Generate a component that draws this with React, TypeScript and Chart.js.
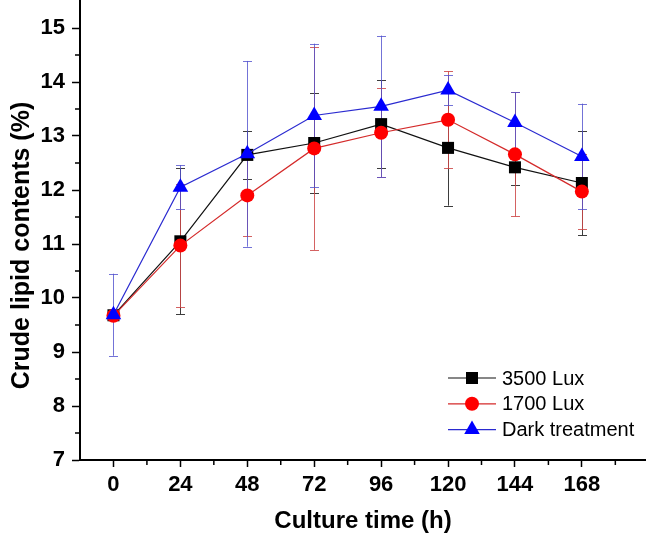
import React, { useEffect, useRef } from 'react';
import { Chart, registerables } from 'chart.js';
import { drawPoint } from 'chart.js/helpers';

Chart.register(...registerables);

const hours = [0, 24, 48, 72, 96, 120, 144, 168];
const lux3500 = [9.68, 11.05, 12.65, 12.87, 13.22, 12.78, 12.42, 12.13];
const lux3500Err = [0.05, 1.35, 0.45, 0.92, 0.81, 1.07, 0.32, 0.97];
const lux1700 = [9.67, 10.97, 11.9, 12.77, 13.06, 13.3, 12.66, 11.97];
const lux1700Err = [0.08, 1.14, 0.75, 1.88, 0.82, 0.9, 1.15, 0.7];
const dark = [9.69, 12.05, 12.67, 13.38, 13.55, 13.85, 13.25, 12.62];
const darkErr = [0.76, 0.41, 1.72, 1.33, 1.31, 0.28, 0.56, 0.98];

const seriesNames = ['3500 Lux', '1700 Lux', 'Dark treatment'];
const xTickValues = [0, 24, 48, 72, 96, 120, 144, 168];
const xMinorValues = [12, 36, 60, 84, 108, 132, 156, 180];
const yTickValues = [7, 8, 9, 10, 11, 12, 13, 14, 15];
const yMinorValues = [7.5, 8.5, 9.5, 10.5, 11.5, 12.5, 13.5, 14.5];
const xTitle = 'Culture time (h)';
const yTitle = 'Crude lipid contents (%)';

const FONT = "'Liberation Sans', Arial, Helvetica, sans-serif";

const errors = [lux3500Err, lux1700Err, darkErr];
const errColors = ['rgba(40,40,40,0.9)', 'rgba(205,70,70,0.85)', 'rgba(80,80,205,0.8)'];

const errorBarPlugin = {
  id: 'errorBars',
  beforeDatasetsDraw(chart: any) {
    const ctx = chart.ctx;
    const yScale = chart.scales.y;
    ctx.save();
    chart.data.datasets.forEach((ds: any, i: number) => {
      const meta = chart.getDatasetMeta(i);
      const err = errors[i];
      ctx.strokeStyle = errColors[i];
      ctx.lineWidth = 1;
      meta.data.forEach((pt: any, j: number) => {
        const v = ds.data[j].y;
        const e = err[j];
        const x = Math.round(pt.x) + 0.5;
        const yt = yScale.getPixelForValue(v + e);
        const yb = yScale.getPixelForValue(v - e);
        ctx.beginPath();
        ctx.moveTo(x, yt);
        ctx.lineTo(x, yb);
        ctx.moveTo(x - 4.5, Math.round(yt) + 0.5);
        ctx.lineTo(x + 4.5, Math.round(yt) + 0.5);
        ctx.moveTo(x - 4.5, Math.round(yb) + 0.5);
        ctx.lineTo(x + 4.5, Math.round(yb) + 0.5);
        ctx.stroke();
      });
    });
    ctx.restore();
  },
};

const decorPlugin = {
  id: 'decor',
  afterDraw(chart: any) {
    const ctx = chart.ctx;
    const area = chart.chartArea;
    const xs = chart.scales.x;
    const ys = chart.scales.y;
    ctx.save();
    // minor ticks
    ctx.strokeStyle = '#000';
    ctx.lineWidth = 1.5;
    ctx.beginPath();
    xMinorValues.forEach((v) => {
      const x = xs.getPixelForValue(v);
      ctx.moveTo(x, area.bottom);
      ctx.lineTo(x, area.bottom + 5);
    });
    yMinorValues.forEach((v) => {
      const y = ys.getPixelForValue(v);
      ctx.moveTo(area.left, y);
      ctx.lineTo(area.left - 5, y);
    });
    ctx.stroke();

    // y title
    ctx.fillStyle = '#000';
    ctx.font = `bold 25px ${FONT}`;
    ctx.textAlign = 'center';
    ctx.textBaseline = 'middle';
    ctx.translate(22, (area.top + area.bottom) / 2 + 15);
    ctx.rotate(-Math.PI / 2);
    ctx.fillText(yTitle, 0, 0);
    ctx.restore();

    // legend
    ctx.save();
    const x0 = area.right - 198;
    const rowY0 = area.bottom - 82;
    chart.data.datasets.forEach((ds: any, i: number) => {
      const y = rowY0 + i * 25.8;
      ctx.strokeStyle = ds.borderColor;
      ctx.lineWidth = 1.2;
      ctx.beginPath();
      ctx.moveTo(x0, y);
      ctx.lineTo(x0 + 48, y);
      ctx.stroke();
      ctx.fillStyle = ds.pointBackgroundColor;
      ctx.strokeStyle = ds.pointBackgroundColor;
      drawPoint(ctx, { pointStyle: ds.pointStyle, radius: ds.pointRadius, rotation: 0, borderWidth: 0 }, x0 + 24, y);
      ctx.fillStyle = '#000';
      ctx.font = `20px ${FONT}`;
      ctx.textAlign = 'left';
      ctx.textBaseline = 'middle';
      ctx.fillText(ds.label, x0 + 54, y + 1);
    });
    ctx.restore();
  },
};

function pts(vals: number[]) {
  return hours.map((h, i) => ({ x: h, y: vals[i] }));
}

export default function App() {
  const ref = useRef<HTMLCanvasElement | null>(null);
  useEffect(() => {
    document.body.style.margin = '0';
    const canvas = ref.current!;
    const chart = new Chart(canvas, {
      type: 'line',
      data: {
        datasets: [
          {
            label: seriesNames[0],
            data: pts(lux3500),
            borderColor: '#111111',
            borderWidth: 1.2,
            pointStyle: 'rect',
            pointRadius: 8.5,
            pointBackgroundColor: '#000000',
            pointBorderColor: '#000000',
            pointBorderWidth: 0,
            order: 3,
          },
          {
            label: seriesNames[1],
            data: pts(lux1700),
            borderColor: '#d42a2a',
            borderWidth: 1.2,
            pointStyle: 'circle',
            pointRadius: 7,
            pointBackgroundColor: '#ff0000',
            pointBorderColor: '#ff0000',
            pointBorderWidth: 0,
            order: 2,
          },
          {
            label: seriesNames[2],
            data: pts(dark),
            borderColor: '#2a2ad0',
            borderWidth: 1.2,
            pointStyle: 'triangle',
            pointRadius: 9,
            pointBackgroundColor: '#0000ff',
            pointBorderColor: '#0000ff',
            pointBorderWidth: 0,
            order: 1,
          },
        ],
      },
      options: {
        animation: false,
        responsive: false,
        clip: false as any,
        layout: { autoPadding: false, padding: { top: 1, right: 0, left: 0, bottom: 0 } },
        plugins: { legend: { display: false }, tooltip: { enabled: false } },
        scales: {
          x: {
            type: 'linear',
            min: -12,
            max: 191,
            afterBuildTicks: (s: any) => {
              s.ticks = xTickValues.map((v) => ({ value: v }));
            },
            afterFit: (s: any) => {
              s.height = 79;
              s.paddingLeft = 0;
              s.paddingRight = 0;
            },
            border: { display: true, color: '#000', width: 2 },
            grid: { drawOnChartArea: false, drawTicks: true, tickLength: 7, tickColor: '#000', tickWidth: 1.5 },
            ticks: {
              color: '#000',
              font: { family: FONT, size: 22, weight: 'bold' },
              padding: 5,
              maxRotation: 0,
              autoSkip: false,
            },
            title: {
              display: true,
              text: xTitle,
              color: '#000',
              font: { family: FONT, size: 24, weight: 'bold' },
              padding: { top: 0, bottom: 3 },
            },
          },
          y: {
            type: 'linear',
            min: 7,
            max: 15.5,
            afterBuildTicks: (s: any) => {
              s.ticks = yTickValues.map((v) => ({ value: v }));
            },
            afterFit: (s: any) => {
              s.width = 80;
              s.paddingTop = 0;
              s.paddingBottom = 0;
            },
            border: { display: true, color: '#000', width: 2 },
            grid: { drawOnChartArea: false, drawTicks: true, tickLength: 8, tickColor: '#000', tickWidth: 1.5 },
            ticks: {
              color: '#000',
              font: { family: FONT, size: 22, weight: 'bold' },
              padding: 7,
              autoSkip: false,
            },
            title: { display: false },
          },
        },
      },
      plugins: [errorBarPlugin, decorPlugin],
    });
    return () => chart.destroy();
  }, []);
  return (
    <div style={{ width: 646, height: 539, background: '#fff' }}>
      <canvas ref={ref} width={646} height={539} style={{ display: 'block' }} />
    </div>
  );
}
